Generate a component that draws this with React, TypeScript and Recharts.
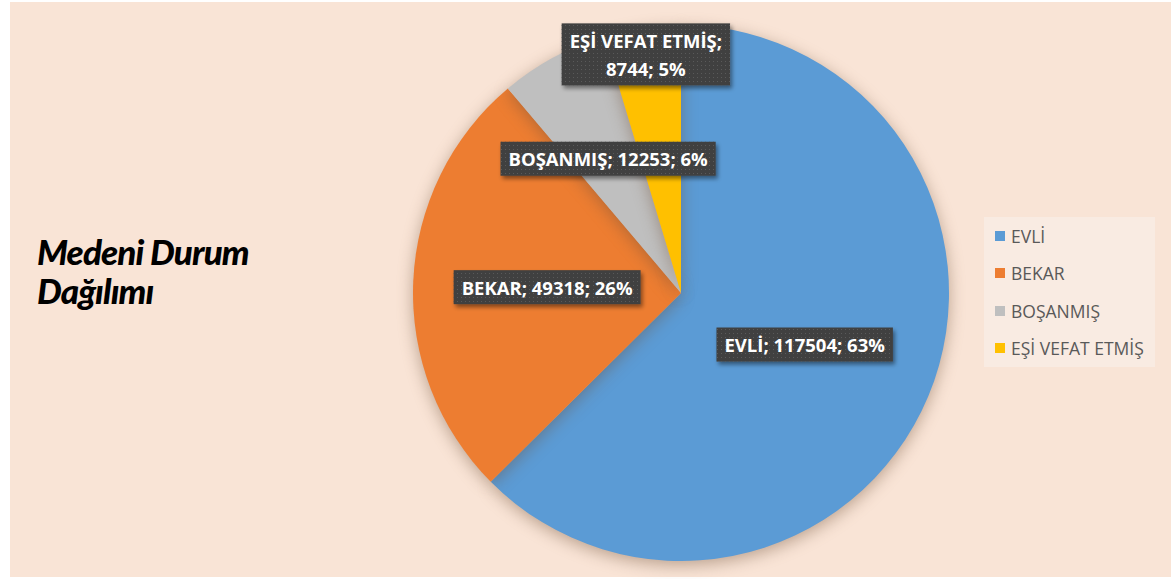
import React from 'react';
import { PieChart, Pie, Cell, Legend } from 'recharts';

const categories = ['EVLİ', 'BEKAR', 'BOŞANMIŞ', 'EŞİ VEFAT ETMİŞ'];
const counts = [117504, 49318, 12253, 8744];
const percentLabels = ['63%', '26%', '6%', '5%'];
const colors = ['#5B9BD5', '#ED7D31', '#BFBFBF', '#FFC000'];
const titleLines = ['Medeni Durum', 'Dağılımı'];

const data = categories.map((name, i) => ({ name, value: counts[i], pct: percentLabels[i] }));

const LABEL_FONT = 'bold 18.5px "Open Sans", "Noto Sans", sans-serif';
let ctx: CanvasRenderingContext2D | null = null;
const measure = (t: string) => {
  if (!ctx) ctx = document.createElement('canvas').getContext('2d');
  if (!ctx) return t.length * 10;
  ctx.font = LABEL_FONT;
  return ctx.measureText(t).width;
};

const RAD = Math.PI / 180;
const radiusFactor = [0.5, 0.5, 0.57, 0.9];

const renderLabel = (props: any) => {
  const { cx, cy, midAngle, outerRadius, index, name, value, payload } = props;
  const r = outerRadius * radiusFactor[index];
  const x = cx + r * Math.cos(-midAngle * RAD);
  const y = cy + r * Math.sin(-midAngle * RAD);
  const pct = payload?.pct ?? percentLabels[index];
  const full = `${name}; ${value}; ${pct}`;
  const lines = index === 3 ? [`${name};`, `${value}; ${pct}`] : [full];
  const lh = 28;
  const w = Math.max(...lines.map(measure)) + 16;
  const h = lines.length * lh + 6;
  return (
    <g key={`lbl-${index}`}>
      <rect x={x - w / 2} y={y - h / 2} width={w} height={h} fill="#404040" filter="url(#boxShadow)" />
      <rect x={x - w / 2} y={y - h / 2} width={w} height={h} fill="url(#dots)" />
      {lines.map((ln, i) => (
        <text
          key={i}
          x={x}
          y={y - h / 2 + 3 + lh * i + lh / 2}
          textAnchor="middle"
          dominantBaseline="central"
          fill="#FFFFFF"
          style={{ font: LABEL_FONT }}
        >
          {ln}
        </text>
      ))}
    </g>
  );
};

const LegendContent = () => (
  <div
    style={{
      background: '#F9EBE2',
      width: 171,
      height: 150,
      boxSizing: 'border-box',
      padding: '0 0 0 11px',
      fontFamily: '"Open Sans", "Noto Sans", sans-serif',
      fontSize: 17.5,
      lineHeight: '20px',
      color: '#595959',
    }}
  >
    {categories.map((c, i) => (
      <div key={c} style={{ display: 'flex', alignItems: 'center', height: 37.5, whiteSpace: 'nowrap' }}>
        <span style={{ display: 'inline-block', flex: '0 0 auto', width: 10, height: 10, background: colors[i], marginRight: 6 }} />
        <span>{c}</span>
      </div>
    ))}
  </div>
);

export default function App() {
  return (
    <div style={{ position: 'absolute', left: 0, top: 0, width: 1171, height: 579, background: '#FFFFFF', overflow: 'hidden' }}>
      <div style={{ position: 'absolute', left: 10, top: 2, width: 1161, height: 575, background: '#F9E4D6' }} />
      <div
        style={{
          position: 'absolute',
          left: 37,
          top: 232,
          fontFamily: 'Lato, "Open Sans", sans-serif',
          fontWeight: 900,
          fontStyle: 'italic',
          fontSize: 35,
          lineHeight: '39px',
          letterSpacing: -0.9,
          color: '#000',
        }}
      >
        {titleLines.map((t) => (
          <div key={t}>{t}</div>
        ))}
      </div>
      <div style={{ position: 'absolute', left: 0, top: 0 }}>
        <PieChart width={1171} height={579} margin={{ top: 0, right: 0, bottom: 0, left: 0 }}>
          <defs>
            <filter id="boxShadow" x="-20%" y="-40%" width="140%" height="180%">
              <feGaussianBlur in="SourceAlpha" stdDeviation="2" />
              <feOffset dx="2" dy="3" result="b" />
              <feFlood floodColor="#000" floodOpacity="0.45" />
              <feComposite in2="b" operator="in" />
              <feMerge>
                <feMergeNode />
                <feMergeNode in="SourceGraphic" />
              </feMerge>
            </filter>
            <pattern id="dots" width="4" height="4" patternUnits="userSpaceOnUse">
              <rect x="1" y="1" width="1" height="1" fill="#5a5a5a" />
            </pattern>
          </defs>
          <Pie
            data={data}
            dataKey="value"
            nameKey="name"
            cx={681}
            cy={293}
            outerRadius={268}
            startAngle={90}
            endAngle={-270}
            stroke="none"
            isAnimationActive={false}
            labelLine={false}
            label={renderLabel}
            style={{ filter: 'drop-shadow(0px 4px 8px rgba(110,80,55,0.45))' }}
          >
            {data.map((d, i) => (
              <Cell key={d.name} fill={colors[i]} />
            ))}
          </Pie>
          <Legend
            layout="vertical"
            align="right"
            verticalAlign="top"
            content={<LegendContent />}
            wrapperStyle={{ left: 984, top: 217, width: 171 }}
          />
        </PieChart>
      </div>
    </div>
  );
}
